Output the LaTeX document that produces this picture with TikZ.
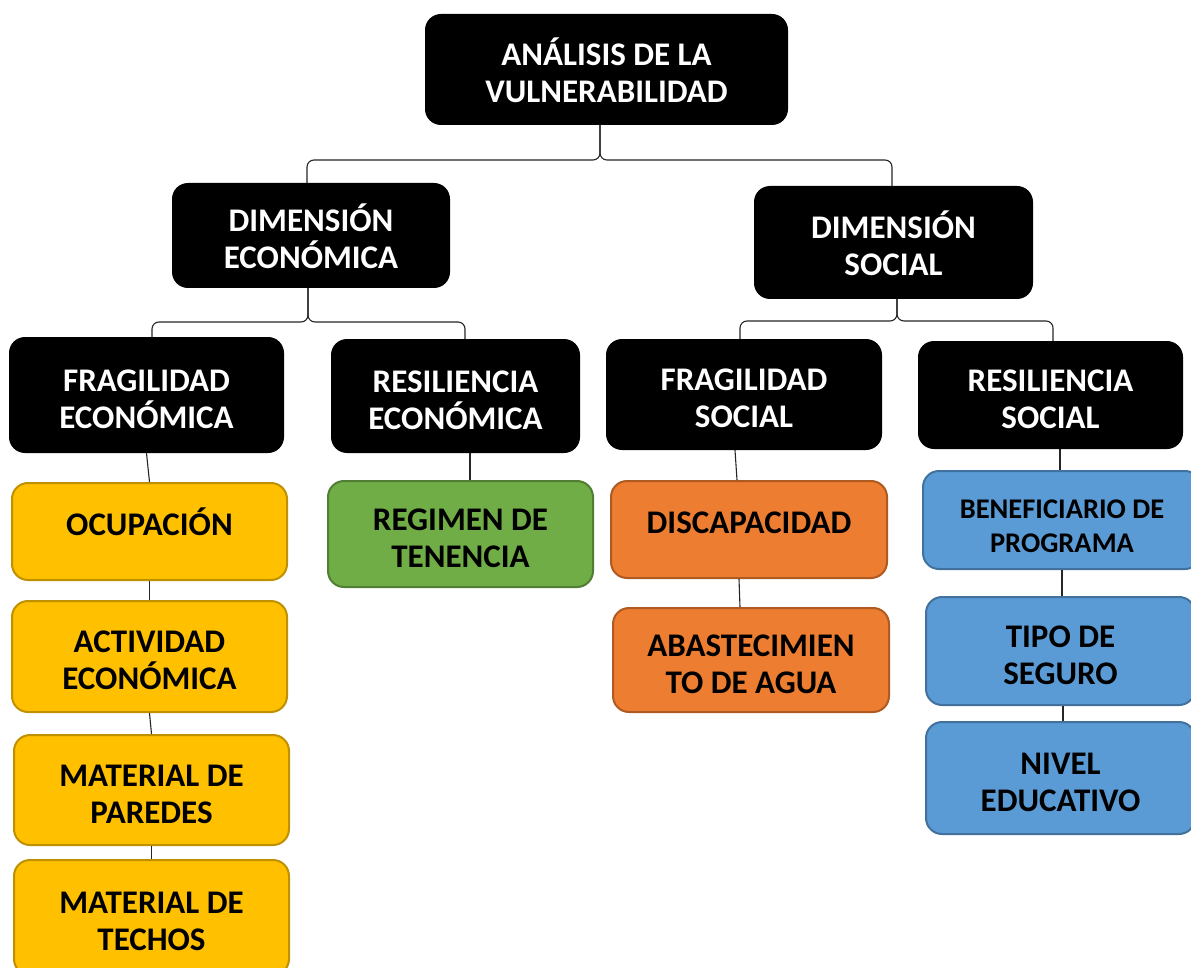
\documentclass[tikz,border=0pt]{standalone}
\usepackage{fontspec}
\setmainfont{Carlito}
\usetikzlibrary{calc}
\definecolor{yfill}{HTML}{FFC000}
\definecolor{ydraw}{HTML}{BF9000}
\definecolor{gfill}{HTML}{70AD47}
\definecolor{gdraw}{HTML}{507E32}
\definecolor{ofill}{HTML}{ED7D31}
\definecolor{odraw}{HTML}{AE5A21}
\definecolor{bfill}{HTML}{5B9BD5}
\definecolor{bdraw}{HTML}{41719C}
\definecolor{conncol}{HTML}{262626}
\tikzset{
  base/.style={rounded corners=16pt, inner sep=0pt, align=center,
    font=\fontsize{33}{37}\selectfont\bfseries, text height=66pt, text depth=0pt},
  oneline/.style={text height=29pt, text depth=22pt},
  blk/.style={base, fill=black, text=white},
  ybox/.style={base, fill=yfill, draw=ydraw, line width=2pt},
  gbox/.style={base, fill=gfill, draw=gdraw, line width=2pt},
  obox/.style={base, fill=ofill, draw=odraw, line width=2pt},
  bbox/.style={base, fill=bfill, draw=bdraw, line width=2pt},
  sz/.style 2 args={minimum width=#1pt, minimum height=#2pt},
  conn/.style={draw=conncol, line width=1.1pt, rounded corners=7pt},
  vconn/.style={draw=conncol, line width=1.1pt}
}
\begin{document}
\begin{tikzpicture}[x=1pt,y=-1pt]
\useasboundingbox (0,0) rectangle (1191,968);
\clip (0,0) rectangle (1191,968);
\fill[white] (0,0) rectangle (1191,968);
% level 0
\node[blk, sz={363}{111}] (top) at (606.5,69.5) {ANÁLISIS DE LA\\VULNERABILIDAD};
% level 1
\node[blk, sz={278}{105}] (dimE) at (311,235.5) {DIMENSIÓN\\ECONÓMICA};
\node[blk, sz={279}{113}] (dimS) at (893.5,242.5) {DIMENSIÓN\\SOCIAL};
% level 2
\node[blk, sz={275}{116}] (fragE) at (146.5,395) {FRAGILIDAD\\ECONÓMICA};
\node[blk, sz={249}{114}] (resE) at (455.5,396) {RESILIENCIA\\ECONÓMICA};
\node[blk, sz={276}{111}] (fragS) at (744,394.5) {FRAGILIDAD\\SOCIAL};
\node[blk, sz={265}{108}] (resS) at (1050.5,395) {RESILIENCIA\\SOCIAL};
% yellow column
\node[ybox, sz={275}{97}, oneline] (ocup) at (149.5,531.5) {OCUPACIÓN};
\node[ybox, sz={275}{111}] (activ) at (149.5,656.5) {ACTIVIDAD\\ECONÓMICA};
\node[ybox, sz={275}{110}] (pared) at (151.5,790) {MATERIAL DE\\PAREDES};
\node[ybox, sz={275}{115}] (techo) at (151.5,917.5) {MATERIAL DE\\TECHOS};
% green
\node[gbox, sz={265}{106}] (regim) at (460.5,534) {REGIMEN DE\\TENENCIA};
% orange
\node[obox, sz={276}{97}, oneline] (disc) at (749,529.5) {DISCAPACIDAD};
\node[obox, sz={276}{104}] (abast) at (751,660) {ABASTECIMIEN\\TO DE AGUA};
% blue
\node[bbox, sz={278}{98}, font=\fontsize{28.5}{34}\selectfont\bfseries, text height=64.5pt, text depth=0pt] (benef) at (1062,520) {BENEFICIARIO DE\\PROGRAMA};
\node[bbox, sz={269}{108}] (tipo) at (1060.5,651) {TIPO DE\\SEGURO};
\node[bbox, sz={269}{112}] (nivel) at (1060.5,778) {NIVEL\\EDUCATIVO};
% junction points of the braces
\coordinate (j1) at (600,160);
\coordinate (l1) at (307,160);
\coordinate (r1) at (892,160);
\coordinate (j2) at (308,322);
\coordinate (l2) at (152,322);
\coordinate (r2) at (465,322);
\coordinate (j3) at (897,321);
\coordinate (l3) at (740,321);
\coordinate (r3) at (1053,321);
% braces
\draw[conn] (j1 |- top.south) |- (l1) -- (l1 |- dimE.north);
\draw[conn] (j1 |- top.south) |- (r1) -- (r1 |- dimS.north);
\draw[conn] (j2 |- dimE.south) |- (l2) -- (l2 |- fragE.north);
\draw[conn] (j2 |- dimE.south) |- (r2) -- (r2 |- resE.north);
\draw[conn] (j3 |- dimS.south) |- (l3) -- (l3 |- fragS.north);
\draw[conn] (j3 |- dimS.south) |- (r3) -- (r3 |- resS.north);
% vertical links
\draw[vconn] (fragE.south) -- (ocup.north);
\draw[vconn] (ocup.south) -- (activ.north);
\draw[vconn] (activ.south) -- (pared.north);
\draw[vconn] (pared.south) -- (techo.north);
\draw[vconn] (resE.south -| 470,0) -- (regim.north -| 470,0);
\draw[vconn] ([xshift=-9pt]fragS.south) -- ([xshift=-12pt]disc.north);
\draw[vconn] ([xshift=-10pt]disc.south) -- ([xshift=-11pt]abast.north);
\draw[vconn] (resS.south -| 1060,0) -- (benef.north -| 1060,0);
\draw[vconn] (benef.south -| 1062,0) -- (tipo.north -| 1062,0);
\draw[vconn] (tipo.south -| 1063,0) -- (nivel.north -| 1063,0);
\end{tikzpicture}
\end{document}
